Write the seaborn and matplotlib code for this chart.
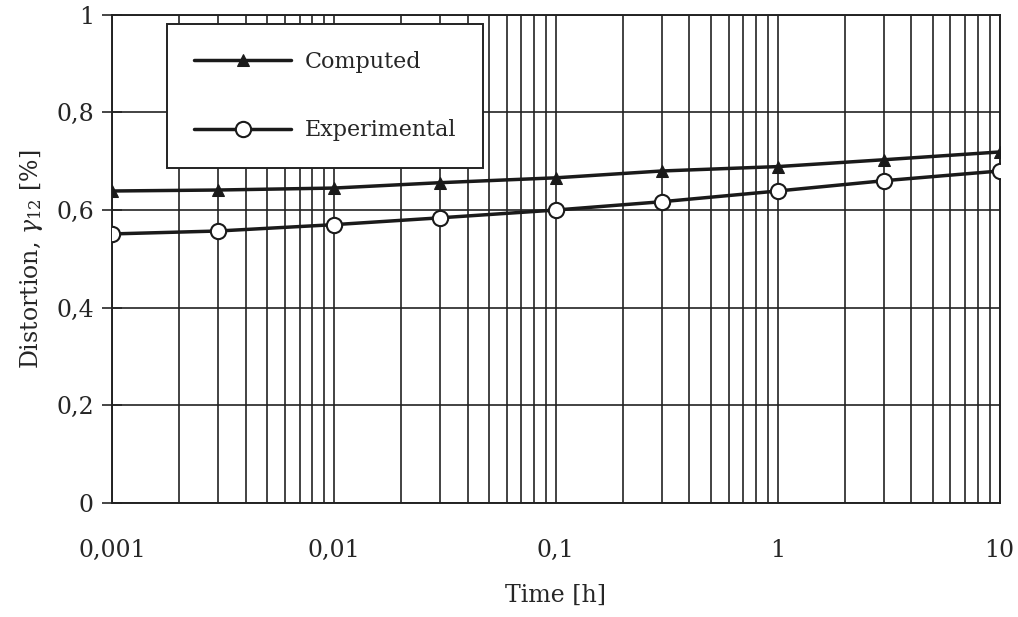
import numpy as np
import pandas as pd
import matplotlib
matplotlib.use("Agg")
import matplotlib.pyplot as plt
import seaborn as sns
from matplotlib.ticker import FixedLocator, LogLocator, NullFormatter, FixedFormatter

time_h = [0.001, 0.003, 0.01, 0.03, 0.1, 0.3, 1, 3, 10]
computed = [0.639, 0.641, 0.645, 0.656, 0.666, 0.680, 0.689, 0.703, 0.719]
experimental = [0.551, 0.557, 0.570, 0.584, 0.600, 0.617, 0.639, 0.660, 0.680]

x_ticks = [0.001, 0.01, 0.1, 1, 10]
x_labels = ["0,001", "0,01", "0,1", "1", "10"]
y_ticks = [0, 0.2, 0.4, 0.6, 0.8, 1]
y_labels = ["0", "0,2", "0,4", "0,6", "0,8", "1"]

sns.set_style("white")
plt.rcParams["font.family"] = ["DejaVu Serif Condensed", "DejaVu Serif"]
plt.rcParams["mathtext.fontset"] = "dejavuserif"

fig = plt.figure(figsize=(10.18, 6.17), dpi=100)
ax = fig.add_axes([0.110, 0.185, 0.872, 0.791])

df_c = pd.DataFrame({"t": time_h, "v": computed})
df_e = pd.DataFrame({"t": time_h, "v": experimental})

sns.lineplot(data=df_c, x="t", y="v", ax=ax, color="#1a1a1a", lw=2.5,
             marker="^", markersize=9, markeredgecolor="#1a1a1a",
             markerfacecolor="#1a1a1a", label="Computed", zorder=5)
sns.lineplot(data=df_e, x="t", y="v", ax=ax, color="#1a1a1a", lw=2.5,
             marker="o", markersize=11, markeredgecolor="#1a1a1a",
             markerfacecolor="white", markeredgewidth=1.5,
             label="Experimental", zorder=5)

ax.set_xscale("log")
ax.set_xlim(0.001, 10)
ax.set_ylim(0, 1)

ax.xaxis.set_major_locator(FixedLocator(x_ticks))
ax.xaxis.set_major_formatter(FixedFormatter(x_labels))
ax.xaxis.set_minor_locator(LogLocator(base=10, subs=np.arange(2, 10)))
ax.xaxis.set_minor_formatter(NullFormatter())
ax.yaxis.set_major_locator(FixedLocator(y_ticks))
ax.yaxis.set_major_formatter(FixedFormatter(y_labels))

ax.grid(True, which="both", axis="x", color="#222222", lw=1.2)
ax.grid(True, which="major", axis="y", color="#222222", lw=1.2)

for s in ax.spines.values():
    s.set_color("#222222")
    s.set_linewidth(1.4)

ax.tick_params(axis="y", which="major", direction="inout", length=14, width=1.2,
               labelsize=17, pad=6, left=True)
ax.tick_params(axis="x", which="major", direction="in", length=0, labelsize=17, pad=26)
ax.tick_params(axis="x", which="minor", length=0)

ax.set_xlabel("Time [h]", fontsize=17, labelpad=16)
ax.set_ylabel(r"Distortion, $\gamma_{12}$ [%]", fontsize=17, labelpad=8)

leg = ax.legend(loc="upper left", bbox_to_anchor=(0.062, 0.981), fontsize=16,
                handlelength=4.4, numpoints=1, frameon=True, fancybox=False,
                borderpad=1.2, labelspacing=2.1, handletextpad=0.6,
                borderaxespad=0)
leg.get_frame().set_edgecolor("#222222")
leg.get_frame().set_linewidth(1.4)
leg.get_frame().set_alpha(1)

fig.savefig("out.png", dpi=100, facecolor="white")
